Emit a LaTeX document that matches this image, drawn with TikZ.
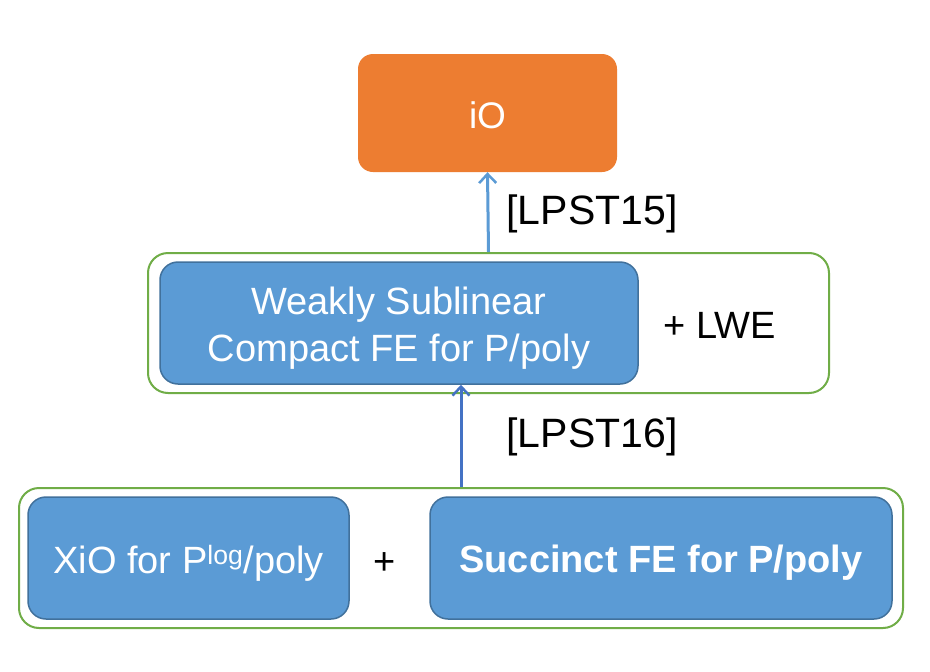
\documentclass[tikz,border=0pt]{standalone}
\usepackage{fontspec}
\setmainfont{Liberation Sans}
\usetikzlibrary{arrows.meta}
\definecolor{orangebox}{HTML}{ED7D31}
\definecolor{bluebox}{HTML}{5B9BD5}
\definecolor{blueedge}{HTML}{41719C}
\definecolor{greenedge}{HTML}{70AD47}
\definecolor{arrowlight}{HTML}{5B9BD5}
\definecolor{arrowdark}{HTML}{4472C4}
\newcommand{\dnshift}[1]{\raisebox{-5pt}[\height][\depth]{#1}}
\tikzset{
  bluenode/.style={draw=blueedge, line width=1.5pt, fill=bluebox, rounded corners=18pt,
    text=white, align=center, inner sep=0pt, font=\fontsize{38}{47}\selectfont},
  groupbox/.style={draw=greenedge, line width=2pt, rounded corners=20pt, inner sep=0pt},
  plainlabel/.style={inner sep=0pt, font=\fontsize{38}{46}\selectfont},
  reflabel/.style={inner sep=0pt, font=\fontsize{41}{46}\selectfont},
  uparrow/.style={line width=3pt, -{Straight Barb[length=9pt,width=17pt,line width=2.5pt]}}
}
\begin{document}
\begin{tikzpicture}[x=1pt,y=-1pt]
\useasboundingbox[fill=white] (0,0) rectangle (930,672);
% top node
\node[fill=orangebox, rounded corners=15pt, minimum width=259pt, minimum height=118pt,
  inner sep=0pt, text=white, font=\fontsize{37}{40}\selectfont] (io) at (487.5,113) {\raisebox{-2pt}[\height][\depth]{iO}};
% middle group
\node[groupbox, minimum width=681pt, minimum height=140pt] (grp2) at (488.5,323) {};
\node[bluenode, minimum width=478pt, minimum height=122pt] (wsc) at (399,323)
  {\dnshift{Weakly Sublinear}\\\dnshift{Compact FE for P/poly}};
\node[plainlabel] (lwe) at (720,325) {+ LWE};
% bottom group
\node[groupbox, minimum width=884pt, minimum height=140pt] (grp1) at (461,558) {};
\node[bluenode, minimum width=321pt, minimum height=122pt] (xio) at (188.5,558)
  {\dnshift{XiO for P\textsuperscript{log}/poly}};
\node[plainlabel] (plus) at (385,564) {+};
\node[bluenode, minimum width=462pt, minimum height=122pt, font=\fontsize{38}{47}\selectfont\bfseries] (succ) at (661,558)
  {\dnshift{Succinct FE for P/poly}};
% arrows
\draw[uparrow, draw=arrowlight] (grp2.north) -- (io.south);
\draw[uparrow, draw=arrowdark] (grp1.north) -- (grp1.north |- wsc.south);
% labels
\node[reflabel] (l15) at (592,209) {\dnshift{[LPST15]}};
\node[reflabel] (l16) at (592,432) {\dnshift{[LPST16]}};
\end{tikzpicture}
\end{document}
